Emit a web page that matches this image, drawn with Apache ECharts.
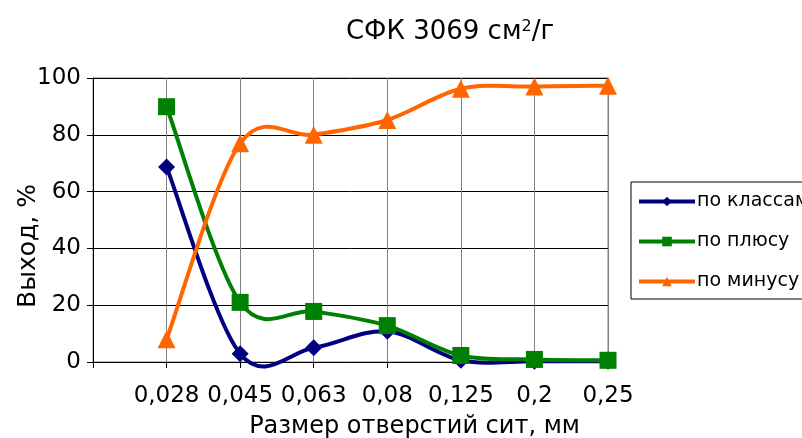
<!DOCTYPE html>
<html>
<head>
<meta charset="utf-8">
<script src="https://cdn.jsdelivr.net/npm/echarts@6/dist/echarts.min.js"></script>
<style>
html,body{margin:0;padding:0;background:#fff;}
#main{width:802px;height:438px;}
</style>
</head>
<body>
<div id="main"></div>
<script>
var categories = ['0,028', '0,045', '0,063', '0,08', '0,125', '0,2', '0,25'];
var poKlassam = [68.7, 2.9, 5, 10.8, 0.6, 0.3, 0.3];
var poPlyusu = [89.9, 21, 17.8, 12.8, 2.3, 0.9, 0.6];
var poMinusu = [8, 77, 80, 85.2, 96.2, 97, 97.3];
var yTicks = [0, 20, 40, 60, 80, 100];

var FONT = 'DejaVu Sans, sans-serif';
var axisCats = [''].concat(categories);
function pad(arr) { return [null].concat(arr); }
var BLUE = '#000080', GREEN = '#008000', ORANGE = '#FF6600';

// Excel-style smoothed curve drawn through the chart's own coordinate system
function makeCurve(arr, color, z) {
  return {
    type: 'custom',
    silent: true,
    z: z,
    data: arr.map(function (v, i) { return [i + 1, v]; }),
    renderItem: function (params, api) {
      var i = params.dataIndex, n = arr.length;
      if (i >= n - 1) return null;
      var P = function (k) {
        k = Math.max(0, Math.min(n - 1, k));
        return api.coord([k + 1, arr[k]]);
      };
      var p0 = P(i - 1), p1 = P(i), p2 = P(i + 1), p3 = P(i + 2);
      var t = 1 / 6;
      return {
        type: 'bezierCurve',
        shape: {
          x1: p1[0], y1: p1[1], x2: p2[0], y2: p2[1],
          cpx1: p1[0] + (p2[0] - p0[0]) * t, cpy1: p1[1] + (p2[1] - p0[1]) * t,
          cpx2: p2[0] - (p3[0] - p1[0]) * t, cpy2: p2[1] - (p3[1] - p1[1]) * t
        },
        style: { stroke: color, lineWidth: 4, fill: 'none', lineCap: 'round' }
      };
    }
  };
}
function makeMarkers(name, arr, color, symbol, size, z) {
  return {
    name: name, type: 'line', data: pad(arr),
    symbol: symbol, symbolSize: size,
    lineStyle: { color: color, width: 4, opacity: 0 },
    itemStyle: { color: color }, z: z
  };
}

var chart = echarts.init(document.getElementById('main'), null, {renderer: 'canvas'});
chart.setOption({
  backgroundColor: '#fff',
  animation: false,
  title: {
    text: 'СФК 3069 см{sup|2}/г',
    left: 445,
    textAlign: 'center',
    top: 14,
    textStyle: {
      fontFamily: FONT, fontSize: 26, fontWeight: 'normal', color: '#000',
      rich: { sup: { fontFamily: FONT, fontSize: 16, color: '#000', verticalAlign: 'top', padding: [0, 0, 10, 0] } }
    }
  },
  grid: {
    left: 93, right: 194, top: 78, bottom: 76,
    containLabel: false, outerBoundsMode: 'none',
    show: true, borderColor: '#808080', borderWidth: 1
  },
  legend: {
    orient: 'vertical',
    left: 631, top: 182,
    itemWidth: 56, itemHeight: 12, itemGap: 21,
    padding: [10, 4, 8, 6],
    borderColor: '#000', borderWidth: 1,
    textStyle: { fontFamily: FONT, fontSize: 19, color: '#000', padding: [0, 0, 0, -3] },
    data: [
      { name: 'по классам', lineStyle: { color: BLUE, width: 4, opacity: 1 } },
      { name: 'по плюсу', lineStyle: { color: GREEN, width: 4, opacity: 1 } },
      { name: 'по минусу', lineStyle: { color: ORANGE, width: 4, opacity: 1 } }
    ]
  },
  xAxis: {
    type: 'category',
    data: axisCats,
    boundaryGap: false,
    name: 'Размер отверстий сит, мм',
    nameLocation: 'middle',
    nameGap: 53,
    nameMoveOverlap: false,
    nameTextStyle: { fontFamily: FONT, fontSize: 24, color: '#000', padding: [0, 0, 0, 128] },
    axisLine: { show: true, lineStyle: { color: '#000', width: 1 } },
    axisTick: { show: true, alignWithLabel: true, length: 6, lineStyle: { color: '#000' }, interval: 0 },
    axisLabel: { fontFamily: FONT, fontSize: 23, color: '#000', margin: 23, interval: 0 },
    splitLine: { show: true, interval: 0, lineStyle: { color: '#808080', width: 1 } }
  },
  yAxis: {
    type: 'value',
    min: yTicks[0], max: yTicks[yTicks.length - 1], interval: 20,
    name: 'Выход, %',
    nameLocation: 'middle',
    nameGap: 52,
    nameMoveOverlap: false,
    nameTextStyle: { fontFamily: FONT, fontSize: 25, color: '#000', padding: [0, 52, 0, 0] },
    axisLine: { show: true, lineStyle: { color: '#000', width: 1 } },
    axisTick: { show: true, inside: false, length: 6, lineStyle: { color: '#000' } },
    axisLabel: { fontFamily: FONT, fontSize: 23, color: '#000', margin: 12 },
    splitLine: { show: true, lineStyle: { color: '#000', width: 1 } }
  },
  series: [
    makeCurve(poKlassam, BLUE, 2),
    makeMarkers('по классам', poKlassam, BLUE, 'diamond', 17, 3),
    makeCurve(poPlyusu, GREEN, 4),
    makeMarkers('по плюсу', poPlyusu, GREEN, 'rect', 17, 5),
    makeCurve(poMinusu, ORANGE, 6),
    makeMarkers('по минусу', poMinusu, ORANGE, 'triangle', 18, 7)
  ]
});
</script>
</body>
</html>
